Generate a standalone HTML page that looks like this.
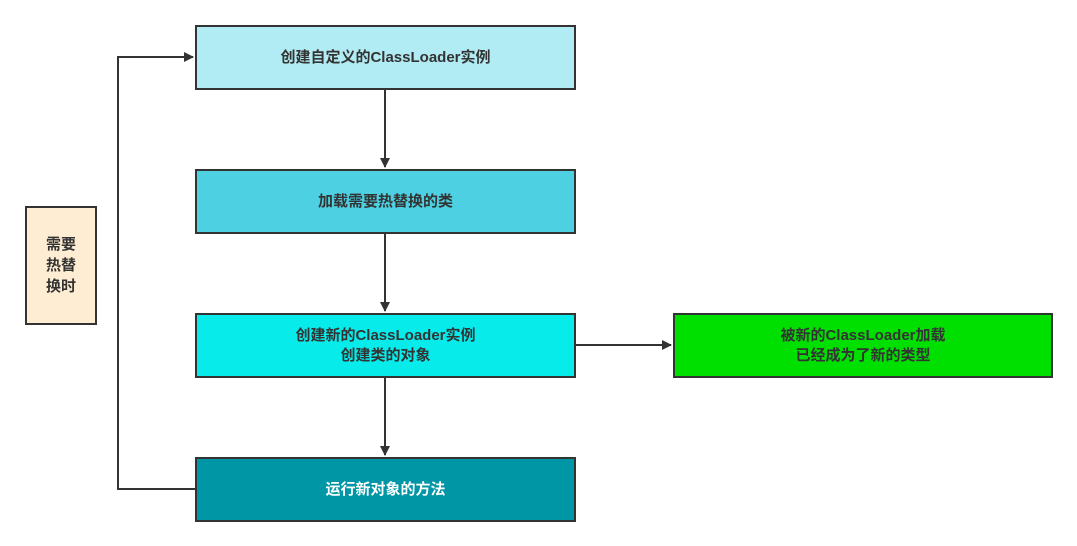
<!DOCTYPE html>
<html><head><meta charset="utf-8"><style>
body{margin:0;width:1077px;height:546px;background:#fff;position:relative;overflow:hidden;font-family:"Liberation Sans","Noto Sans CJK SC",sans-serif;}
.b{position:absolute;box-sizing:border-box;border:2px solid #333;display:flex;align-items:center;justify-content:center;text-align:center;font-size:15px;font-weight:bold;color:#333;line-height:20px;}
</style></head><body>
<svg width="1077" height="546" style="position:absolute;left:0;top:0">
<defs><marker id="a" markerWidth="10" markerHeight="10" refX="9" refY="5" orient="auto" markerUnits="userSpaceOnUse"><path d="M0,0 L10,5 L0,10 z" fill="#333"/></marker></defs>
<g stroke="#333" stroke-width="2" fill="none">
<line x1="385" y1="89" x2="385" y2="167" marker-end="url(#a)"/>
<line x1="385" y1="233" x2="385" y2="311" marker-end="url(#a)"/>
<line x1="385" y1="377" x2="385" y2="455" marker-end="url(#a)"/>
<line x1="575" y1="345" x2="671" y2="345" marker-end="url(#a)"/>
<polyline points="195,489 118,489 118,57 193,57" marker-end="url(#a)"/>
</g></svg>
<div class="b" style="left:195px;top:25px;width:381px;height:65px;background:#b1ebf3">创建自定义的ClassLoader实例</div>
<div class="b" style="left:195px;top:169px;width:381px;height:65px;background:#4dd0e1">加载需要热替换的类</div>
<div class="b" style="left:195px;top:313px;width:381px;height:65px;background:#07ebeb">创建新的ClassLoader实例<br>创建类的对象</div>
<div class="b" style="left:195px;top:457px;width:381px;height:65px;background:#0096a6;color:#fff">运行新对象的方法</div>
<div class="b" style="left:673px;top:313px;width:380px;height:65px;background:#00e000">被新的ClassLoader加载<br>已经成为了新的类型</div>
<div class="b" style="left:25px;top:206px;width:72px;height:119px;background:#ffedd3;line-height:21px">需要<br>热替<br>换时</div>
</body></html>
